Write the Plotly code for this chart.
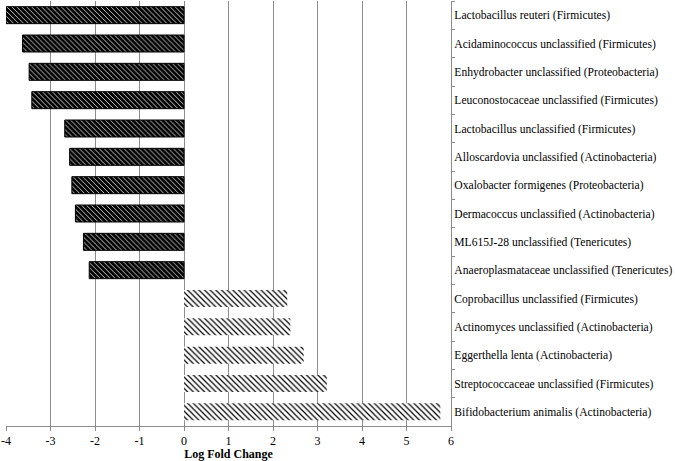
import plotly.graph_objects as go

taxa = [
    "Lactobacillus reuteri (Firmicutes)",
    "Acidaminococcus unclassified (Firmicutes)",
    "Enhydrobacter unclassified (Proteobacteria)",
    "Leuconostocaceae unclassified (Firmicutes)",
    "Lactobacillus unclassified (Firmicutes)",
    "Alloscardovia unclassified (Actinobacteria)",
    "Oxalobacter formigenes (Proteobacteria)",
    "Dermacoccus unclassified (Actinobacteria)",
    "ML615J-28 unclassified (Tenericutes)",
    "Anaeroplasmataceae unclassified (Tenericutes)",
    "Coprobacillus unclassified (Firmicutes)",
    "Actinomyces unclassified (Actinobacteria)",
    "Eggerthella lenta (Actinobacteria)",
    "Streptococcaceae unclassified (Firmicutes)",
    "Bifidobacterium animalis (Actinobacteria)",
]
log_fold_change = [-4.0, -3.63, -3.48, -3.42, -2.68, -2.57, -2.52, -2.44, -2.26, -2.13,
                   2.32, 2.39, 2.69, 3.21, 5.76]
x_ticks = [-4, -3, -2, -1, 0, 1, 2, 3, 4, 5, 6]

neg_y = [t for t, v in zip(taxa, log_fold_change) if v < 0]
neg_x = [v for v in log_fold_change if v < 0]
pos_y = [t for t, v in zip(taxa, log_fold_change) if v >= 0]
pos_x = [v for v in log_fold_change if v >= 0]

fig = go.Figure()
fig.add_trace(go.Bar(
    y=neg_y, x=neg_x, orientation="h", showlegend=False,
    marker=dict(color="black", line=dict(color="black", width=1),
                pattern=dict(shape="\\", fgcolor="white", bgcolor="black",
                             size=3.5, solidity=0.22, fillmode="replace")),
))
fig.add_trace(go.Bar(
    y=pos_y, x=pos_x, orientation="h", showlegend=False,
    marker=dict(color="white", line=dict(color="rgba(0,0,0,0)", width=0),
                pattern=dict(shape="\\", fgcolor="black", bgcolor="white",
                             size=4, solidity=0.3, fillmode="replace")),
))

fig.update_layout(
    width=675, height=461,
    margin=dict(l=6, r=224, t=1, b=35),
    paper_bgcolor="white", plot_bgcolor="white",
    barmode="relative", bargap=0.4,
    font=dict(family="Liberation Serif, Times New Roman, serif", size=11.6, color="black"),
)
fig.update_xaxes(
    range=[-4, 6], tickvals=x_ticks, ticktext=[str(v) for v in x_ticks],
    showgrid=True, gridcolor="#8c8c8c", gridwidth=1, zeroline=False,
    showline=True, linecolor="#8c8c8c", linewidth=1,
    ticks="outside", ticklen=4, tickcolor="#8c8c8c", automargin=False,
    tickfont=dict(size=12),
    title=dict(text="<b>Log Fold Change</b>", standoff=9, font=dict(size=12)),
)
fig.update_yaxes(
    side="right", categoryorder="array", categoryarray=taxa, autorange="reversed",
    showgrid=False, zeroline=False, showline=True, linecolor="#8c8c8c", linewidth=1,
    ticks="outside", ticklen=3, tickcolor="#8c8c8c", tickson="boundaries",
    ticklabelstandoff=0, automargin=False,
)

fig.write_html("out.html", config={"displayModeBar": False},
               post_script="document.body.style.margin='0';")
